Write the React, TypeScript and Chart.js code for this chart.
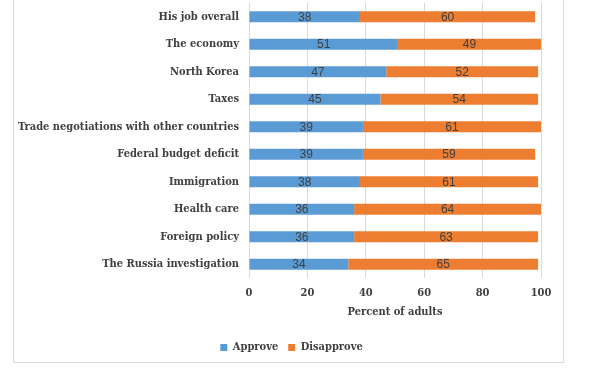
import React, { useEffect, useRef } from "react";
import { Chart, registerables } from "chart.js";

Chart.register(...registerables);

const categories = [
  "His job overall",
  "The economy",
  "North Korea",
  "Taxes",
  "Trade negotiations with other countries",
  "Federal budget deficit",
  "Immigration",
  "Health care",
  "Foreign policy",
  "The Russia investigation",
];
const approve = [38, 51, 47, 45, 39, 39, 38, 36, 36, 34];
const disapprove = [60, 49, 52, 54, 61, 59, 61, 64, 63, 65];
const seriesNames = ["Approve", "Disapprove"];
const xTicks = [0, 20, 40, 60, 80, 100];
const axisTitle = "Percent of adults";

const SERIF = "'DejaVu Serif Condensed', 'DejaVu Serif', serif";
const TEXT = "#404040";

const barLabels = {
  id: "barLabels",
  afterLayout(chart: any) {
    if (chart.legend) {
      chart.legend.left += 14;
      chart.legend.right += 14;
    }
  },
  afterDatasetsDraw(chart: any) {
    const ctx = chart.ctx;
    ctx.save();
    ctx.font = "12px 'Liberation Sans', sans-serif";
    ctx.fillStyle = TEXT;
    ctx.textAlign = "center";
    ctx.textBaseline = "middle";
    chart.data.datasets.forEach((ds: any, di: number) => {
      const meta = chart.getDatasetMeta(di);
      meta.data.forEach((bar: any, i: number) => {
        const p = bar.getProps(["x", "y", "base"], true);
        ctx.fillText(String(ds.data[i]), (p.x + p.base) / 2, p.y + 0.5);
      });
    });
    ctx.restore();
  },
};

export default function App() {
  const ref = useRef<HTMLCanvasElement>(null);
  useEffect(() => {
    const chart = new Chart(ref.current!, {
      type: "bar",
      data: {
        labels: categories,
        datasets: [
          { label: seriesNames[0], data: approve, backgroundColor: "#5B9BD5" },
          { label: seriesNames[1], data: disapprove, backgroundColor: "#ED7D31" },
        ],
      },
      options: {
        indexAxis: "y",
        animation: false,
        responsive: false,
        maintainAspectRatio: false,
        barPercentage: 0.8,
        categoryPercentage: 0.5,
        layout: { padding: { left: 14, right: 71, top: 3, bottom: 11 } },
        scales: {
          x: {
            stacked: true,
            min: 0,
            max: 100,
            afterBuildTicks: (s: any) => {
              s.ticks = xTicks.map((v) => ({ value: v }));
            },
            grid: { color: "#d9d9d9", drawTicks: false },
            border: { display: false },
            ticks: { color: TEXT, font: { family: SERIF, size: 11, weight: "bold" }, padding: 9 },
            title: {
              display: true,
              text: axisTitle,
              color: TEXT,
              font: { family: SERIF, size: 11, weight: "bold" },
              padding: { top: 4, bottom: 13 },
            },
            afterFit: (s: any) => {
              s.height = 54;
            },
          },
          y: {
            stacked: true,
            grid: { display: false, drawTicks: false },
            border: { display: false },
            ticks: { color: TEXT, font: { family: SERIF, size: 11, weight: "bold" }, padding: 10 },
            afterFit: (s: any) => {
              s.width = 235;
              s.paddingTop = 0;
              s.paddingBottom = 0;
            },
          },
        },
        plugins: {
          legend: {
            position: "bottom",
            labels: {
              color: TEXT,
              font: { family: SERIF, size: 11, weight: "bold" },
              boxWidth: 7,
              boxHeight: 7,
              padding: 10,
            },
          },
          tooltip: { enabled: false },
        },
      },
      plugins: [barLabels],
    });
    return () => chart.destroy();
  }, []);
  return (
    <div style={{ position: "fixed", left: 0, top: 0, width: 612, height: 374, background: "#fff" }}>
      <div
        style={{
          position: "absolute",
          left: 13,
          top: -2,
          width: 551,
          height: 365,
          border: "1px solid #d9d9d9",
          boxSizing: "border-box",
        }}
      />
      <canvas ref={ref} width={612} height={374} style={{ position: "absolute", left: 0, top: 0 }} />
    </div>
  );
}
